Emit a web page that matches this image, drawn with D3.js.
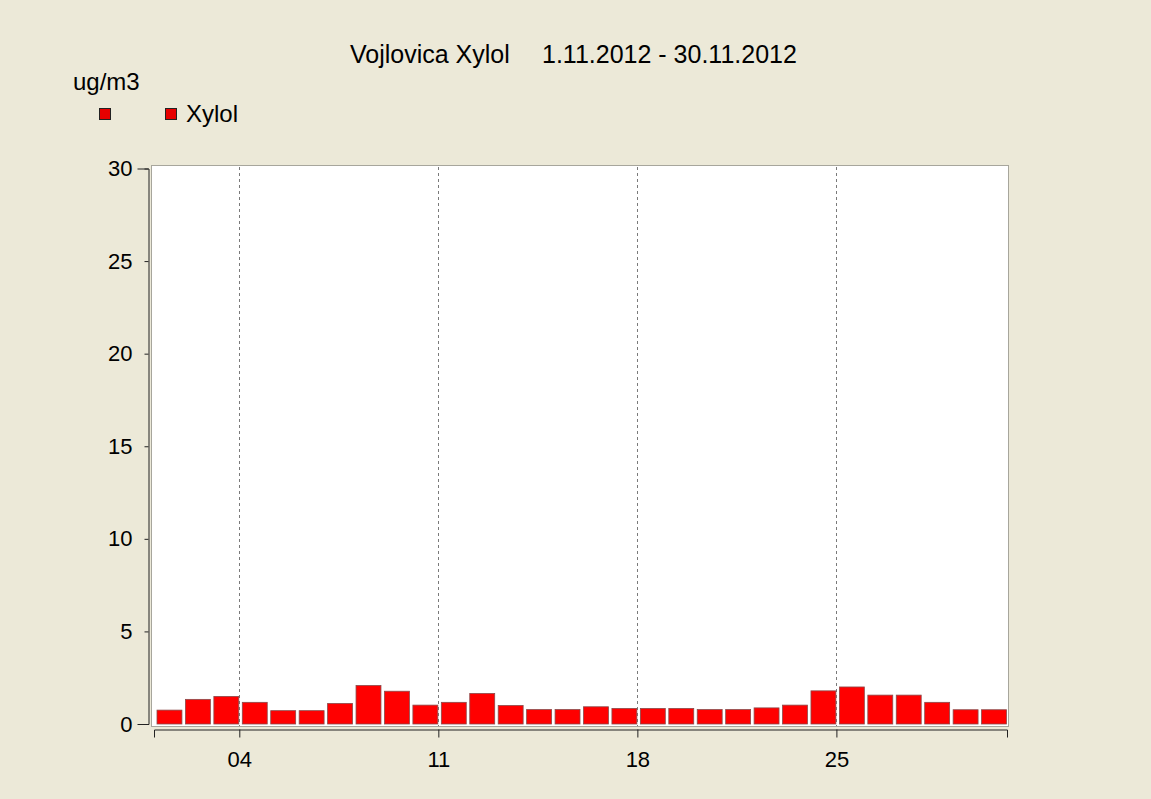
<!DOCTYPE html>
<html>
<head>
<meta charset="utf-8">
<script src="https://cdn.jsdelivr.net/npm/d3@7"></script>
<style>
  html, body { margin: 0; padding: 0; background: #ece9d8; }
  text { font-family: "Liberation Sans", Arial, sans-serif; fill: #000; }
</style>
</head>
<body>
<div id="chart"></div>
<script>
/* Data. */
const days = d3.range(1, 31)
const xylol = [0.75, 1.33, 1.49, 1.17, 0.72, 0.72, 1.11, 2.08, 1.77, 1.02,
  1.17, 1.65, 1.0, 0.78, 0.78, 0.93, 0.84, 0.84, 0.84, 0.78,
  0.78, 0.87, 1.02, 1.79, 2.0, 1.56, 1.56, 1.17, 0.77, 0.77]
const xTickDays = [4, 11, 18, 25]
const yTicks = [0, 5, 10, 15, 20, 25, 30]
const titleName = "Vojlovica Xylol"
const titleRange = "1.11.2012 - 30.11.2012"
const unit = "ug/m3"
const seriesName = "Xylol"

/* Define svg-size. */
const width = 1151
const height = 799

const svg = d3.select("#chart")
  .append("svg")
  .attr("width", width)
  .attr("height", height)
  .style("display", "block")

svg.append("rect")
  .attr("width", width)
  .attr("height", height)
  .attr("fill", "#ece9d8")

/* Scales. Days as dates so the axis ticks land on the day start. */
const day = d => new Date(Date.UTC(2012, 10, d))
const x = d3.scaleUtc()
  .domain([day(1), day(31)])
  .range([154, 1007])

const y = d3.scaleLinear()
  .domain([0, 30])
  .range([724, 168.5])

/* Plot area. */
svg.append("rect")
  .attr("x", 151.5)
  .attr("y", 165.5)
  .attr("width", 857)
  .attr("height", 561)
  .attr("fill", "#ffffff")
  .attr("stroke", "#a7a69c")

/* Dashed grid lines at the labelled days. */
svg.append("g")
  .selectAll("line")
  .data(xTickDays)
  .enter()
  .append("line")
  .attr("x1", d => Math.round(x(day(d))) + 0.5)
  .attr("x2", d => Math.round(x(day(d))) + 0.5)
  .attr("y1", 167)
  .attr("y2", 726)
  .attr("stroke", "#7a7a7a")
  .attr("stroke-dasharray", "3,3")

/* Bars. */
svg.append("g")
  .selectAll("rect")
  .data(days)
  .enter()
  .append("rect")
  .attr("x", d => x(day(d)) + 3)
  .attr("width", d => x(day(d + 1)) - x(day(d)) - 3.5)
  .attr("y", (d, i) => y(xylol[i]))
  .attr("height", (d, i) => y(0) - y(xylol[i]))
  .attr("fill", "#ff0000")
  .attr("stroke", "#8a4a4a")
  .attr("stroke-width", 0.8)

/* Y axis. */
const yAxis = svg.append("g")
  .attr("transform", "translate(148.5, 0)")
  .call(d3.axisLeft(y)
    .tickValues(yTicks)
    .tickSize(4)
    .tickSizeOuter(11)
    .tickPadding(12))
yAxis.selectAll("text")
  .attr("font-size", "22px")
  .attr("font-family", "'Liberation Sans', Arial, sans-serif")
yAxis.selectAll("path, line").attr("stroke", "#222")

/* X axis. */
const xAxis = svg.append("g")
  .attr("transform", "translate(0, 729.5)")
  .call(d3.axisBottom(x)
    .tickValues(xTickDays.map(day))
    .tickFormat(d3.utcFormat("%d"))
    .tickSize(8)
    .tickSizeOuter(8)
    .tickPadding(14))
xAxis.selectAll("text")
  .attr("font-size", "22px")
  .attr("font-family", "'Liberation Sans', Arial, sans-serif")
xAxis.selectAll("path, line").attr("stroke", "#222")

/* Title. */
svg.append("text")
  .attr("x", 350)
  .attr("y", 63)
  .attr("font-size", "25px")
  .text(titleName)

svg.append("text")
  .attr("x", 542)
  .attr("y", 63)
  .attr("font-size", "25px")
  .text(titleRange)

/* Legend. */
svg.append("text")
  .attr("x", 73)
  .attr("y", 90)
  .attr("font-size", "24px")
  .text(unit)

svg.append("g")
  .selectAll("rect")
  .data([99, 165])
  .enter()
  .append("rect")
  .attr("x", d => d + 0.5)
  .attr("y", 108.5)
  .attr("width", 11)
  .attr("height", 11)
  .attr("fill", "#e60000")
  .attr("stroke", "#222")

svg.append("text")
  .attr("x", 186)
  .attr("y", 122)
  .attr("font-size", "24px")
  .text(seriesName)
</script>
</body>
</html>
